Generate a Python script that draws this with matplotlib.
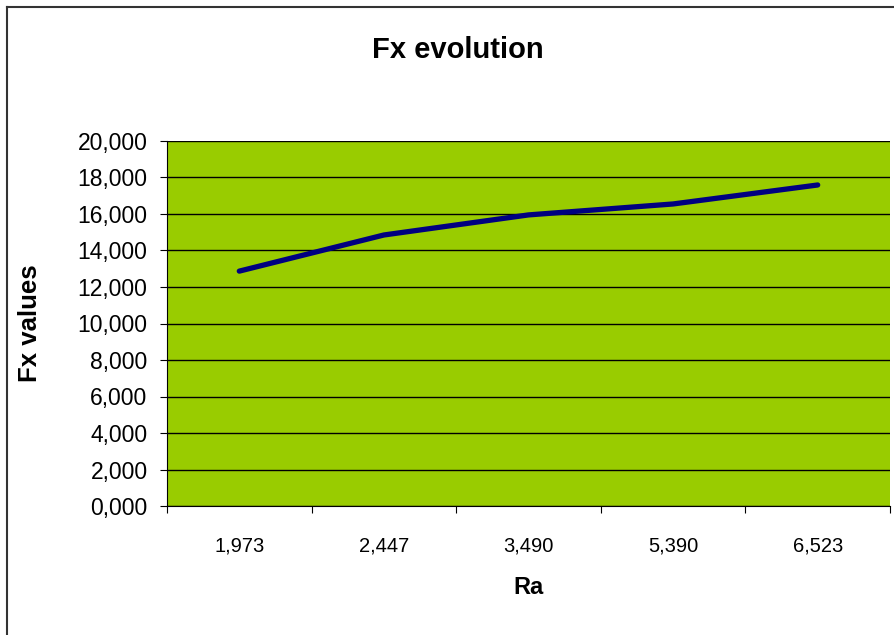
import matplotlib
matplotlib.use('Agg')
import matplotlib.pyplot as plt
import numpy as np
from matplotlib.lines import Line2D

plt.rcParams['font.family'] = ['Liberation Sans', 'DejaVu Sans']

categories = ['1,973', '2,447', '3,490', '5,390', '6,523']
fx_values = [12870, 14850, 15950, 16550, 17590]
y_ticks = [0, 2000, 4000, 6000, 8000, 10000, 12000, 14000, 16000, 18000, 20000]

W, H = 895, 635
fig = plt.figure(figsize=(W / 100, H / 100), dpi=100)
ax = fig.add_axes([167 / W, 1 - 506 / H, 723 / W, 365 / H])
ax.set_facecolor('#99CC00')

xpos = np.arange(len(categories))
ax.plot(xpos, fx_values, color='#000080', lw=3.8, solid_capstyle='round', zorder=3)

ax.set_xlim(-0.5, len(categories) - 0.5)
ax.set_ylim(0, 20000)
ax.set_yticks(y_ticks)
ax.set_yticklabels(['{:,d},000'.format(v // 1000) if v else '0,000' for v in y_ticks], fontsize=16.5)
ax.yaxis.grid(True, color='black', lw=1)
ax.set_axisbelow(True)

ax.set_xticks(np.arange(len(categories) + 1) - 0.5)
ax.set_xticklabels([])
ax.set_xticks(xpos, minor=True)
ax.set_xticklabels(categories, minor=True, fontsize=14.5)
ax.tick_params(axis='x', which='minor', length=0, pad=22)
ax.tick_params(axis='x', which='major', length=5, direction='out', color='black')
ax.tick_params(axis='y', length=5, direction='out', color='black', pad=9)

for side in ['top', 'right']:
    ax.spines[side].set_visible(False)
ax.spines['left'].set_color('black')
ax.spines['bottom'].set_color('black')

fig.text(458 / W, 1 - 50 / H, 'Fx evolution', ha='center', va='center',
         fontsize=21, fontweight='bold')
fig.text(529 / W, 1 - 588 / H, 'Ra', ha='center', va='center',
         fontsize=17, fontweight='bold')
fig.text(30 / W, 1 - 323 / H, 'Fx values', ha='center', va='center',
         fontsize=18.5, fontweight='bold', rotation=90)

# outer chart frame
fig.add_artist(Line2D([7.5 / W, 7.5 / W], [0, 1 - 6.5 / H], color='#333333', lw=1.5,
                      transform=fig.transFigure))
fig.add_artist(Line2D([7.5 / W, 1], [1 - 6.5 / H, 1 - 6.5 / H], color='#333333', lw=1.5,
                      transform=fig.transFigure))

fig.savefig('out.png', dpi=100)
